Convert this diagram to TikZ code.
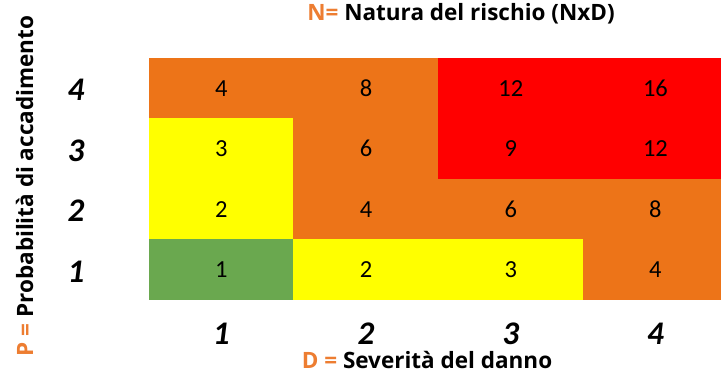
\documentclass[tikz,border=0pt]{standalone}
\usepackage{fontspec}
\setmainfont{Carlito}
\newfontfamily\headfont{Open Sans}
\definecolor{riskorange}{HTML}{ED7418}
\definecolor{riskred}{HTML}{FF0000}
\definecolor{riskyellow}{HTML}{FFFF00}
\definecolor{riskgreen}{HTML}{6AA84F}
\definecolor{keyorange}{HTML}{ED7D31}
\newcommand{\axisnum}{\fontsize{33}{37}\selectfont\bfseries\itshape}
\newcommand{\axistitle}{\fontsize{22.5}{26}\selectfont\headfont\bfseries}

\begin{document}
\begin{tikzpicture}[x=1pt,y=-1pt]
		\tikzstyle{cell}=[inner sep=0pt, minimum width=145.3pt, minimum height=61pt, font=\fontsize{24.5}{28}\selectfont]
		\tikzstyle{axis}=[inner sep=0pt, font=\axisnum]

		\useasboundingbox (0,0) rectangle (721,377);
		\clip (0,0) rectangle (721,377);

		% P = 4
		\node (p4d1) at (221.35,88.25) [cell, fill=riskorange] {4};
		\node (p4d2) at (366.05,88.25) [cell, fill=riskorange] {8};
		\node (p4d3) at (510.75,88.25) [cell, fill=riskred] {12};
		\node (p4d4) at (655.45,88.25) [cell, fill=riskred] {16};
		% P = 3
		\node (p3d1) at (221.35,148.75) [cell, fill=riskyellow] {3};
		\node (p3d2) at (366.05,148.75) [cell, fill=riskorange] {6};
		\node (p3d3) at (510.75,148.75) [cell, fill=riskred] {9};
		\node (p3d4) at (655.45,148.75) [cell, fill=riskred] {12};
		% P = 2
		\node (p2d1) at (221.35,209.25) [cell, fill=riskyellow] {2};
		\node (p2d2) at (366.05,209.25) [cell, fill=riskorange] {4};
		\node (p2d3) at (510.75,209.25) [cell, fill=riskorange] {6};
		\node (p2d4) at (655.45,209.25) [cell, fill=riskorange] {8};
		% P = 1
		\node (p1d1) at (221.35,269.75) [cell, fill=riskgreen] {1};
		\node (p1d2) at (366.05,269.75) [cell, fill=riskyellow] {2};
		\node (p1d3) at (510.75,269.75) [cell, fill=riskyellow] {3};
		\node (p1d4) at (655.45,269.75) [cell, fill=riskorange] {4};

		\node (p4) at (76,90) [axis] {4};
		\node (p3) at (76,150.5) [axis] {3};
		\node (p2) at (76,211) [axis] {2};
		\node (p1) at (76,271.5) [axis] {1};

		\node (d1) at (221.35,333.5) [axis] {1};
		\node (d2) at (366.05,333.5) [axis] {2};
		\node (d3) at (510.75,333.5) [axis] {3};
		\node (d4) at (655.45,333.5) [axis] {4};

		\node (ntitle) at (461,21) [anchor=base, inner sep=0pt, font=\axistitle] {{\color{keyorange}N=} Natura del rischio (NxD)};
		\node (dtitle) at (427,368) [anchor=base, inner sep=0pt, font=\axistitle] {{\color{keyorange}D =} Severità del danno};
		\node (ptitle) at (33,186) [anchor=base, rotate=90, inner sep=0pt, font=\axistitle] {{\color{keyorange}P =} Probabilità di accadimento};
	\end{tikzpicture}
\end{document}
